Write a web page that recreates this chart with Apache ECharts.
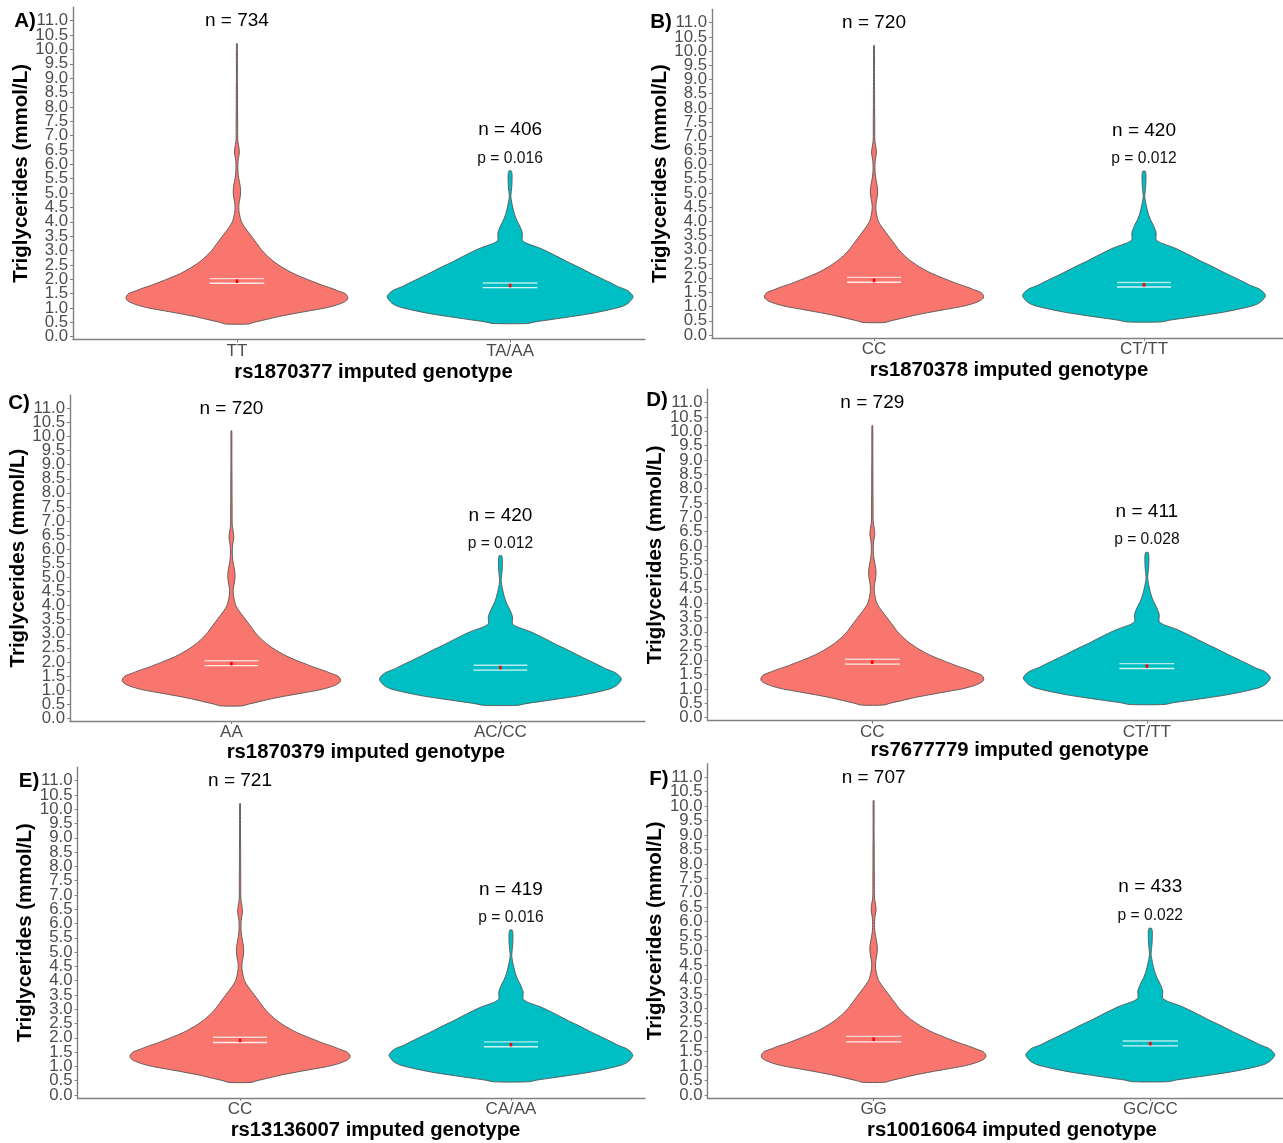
<!DOCTYPE html>
<html>
<head>
<meta charset="utf-8">
<title>Triglycerides by imputed genotype</title>
<script src="https://cdn.jsdelivr.net/npm/echarts@6.0.0/dist/echarts.min.js"></script>
<style>
  html, body { margin: 0; padding: 0; background: #fff; }
  #main { width: 1283px; height: 1143px; }
</style>
</head>
<body>
<div id="main"></div>
<script>
// ---- data ----
const panelTags = ['A)', 'B)', 'C)', 'D)', 'E)', 'F)'];
const snps = ['rs1870377', 'rs1870378', 'rs1870379', 'rs7677779', 'rs13136007', 'rs10016064'];
const genotypeRef = ['TT', 'CC', 'AA', 'CC', 'CC', 'GG'];
const genotypeAlt = ['TA/AA', 'CT/TT', 'AC/CC', 'CT/TT', 'CA/AA', 'GC/CC'];
const nRef = [734, 720, 720, 729, 721, 707];
const nAlt = [406, 420, 420, 411, 419, 433];
const pValues = ['0.016', '0.012', '0.012', '0.028', '0.016', '0.022'];

const meanRef = [1.93, 1.92, 1.94, 1.94, 1.91, 1.93];
const ciRefLow = [1.86, 1.86, 1.87, 1.87, 1.84, 1.84];
const ciRefHigh = [2.02, 2.03, 2.04, 2.04, 2.02, 2.03];
const meanAlt = [1.78, 1.77, 1.80, 1.80, 1.76, 1.78];
const ciAltLow = [1.71, 1.69, 1.71, 1.72, 1.69, 1.70];
const ciAltHigh = [1.87, 1.85, 1.88, 1.89, 1.86, 1.87];

// tick labels: whole and half values (two label rows so none get dropped)
const yTicksWhole = [0, 1, 2, 3, 4, 5, 6, 7, 8, 9, 10, 11];
const yTicksHalf = [0.5, 1.5, 2.5, 3.5, 4.5, 5.5, 6.5, 7.5, 8.5, 9.5, 10.5];

// kernel density outline (relative density, widest violin = 1)
const refLevels = [0.44, 0.5, 0.6, 0.7, 0.8, 0.9, 1.0, 1.1, 1.2, 1.3, 1.4, 1.5, 1.6, 1.7, 1.8, 1.9, 2.0, 2.2, 2.4, 2.6,
  2.8, 3.0, 3.2, 3.4, 3.6, 3.8, 4.0, 4.2, 4.4, 4.6, 4.8, 5.0, 5.2, 5.4, 5.6, 5.8, 6.0, 6.2, 6.4, 6.6, 6.8, 7.0,
  7.5, 8.0, 8.5, 9.0, 9.5, 10.0, 10.2];
const refDensity = [0.09, 0.14, 0.24, 0.34, 0.46, 0.59, 0.72, 0.81, 0.87, 0.90, 0.90, 0.88, 0.82, 0.76, 0.69, 0.63, 0.57, 0.46, 0.375, 0.305,
  0.25, 0.205, 0.17, 0.135, 0.10, 0.065, 0.037, 0.024, 0.016, 0.016, 0.024, 0.03, 0.028, 0.02, 0.012, 0.008, 0.008, 0.012, 0.02, 0.016, 0.008, 0.006,
  0.006, 0.005, 0.005, 0.004, 0.004, 0.004, 0.003];
const altLevels = [0.46, 0.52, 0.6, 0.7, 0.8, 0.93, 1.05, 1.16, 1.3, 1.39, 1.5, 1.62, 1.74, 1.86, 2.0, 2.09, 2.2, 2.44, 2.6, 2.78,
  2.95, 3.08, 3.18, 3.25, 3.35, 3.42, 3.6, 3.83, 4.06, 4.25, 4.41, 4.64, 4.87, 5.1, 5.3, 5.45, 5.65, 5.77];
const altDensity = [0.14, 0.21, 0.34, 0.50, 0.65, 0.80, 0.91, 0.96, 0.99, 1.0, 0.985, 0.95, 0.88, 0.825, 0.757, 0.714, 0.66, 0.55, 0.47, 0.39,
  0.31, 0.245, 0.18, 0.136, 0.10, 0.098, 0.10, 0.081, 0.054, 0.037, 0.027, 0.015, 0.0065, 0.011, 0.015, 0.016, 0.016, 0.01];

// ---- layout (pixels) ----
const panelBox = [
  { axisX: 73,    y0: 336.7,  y11: 20.7,  fullW: 601,   right: 645,  titleY: 372,   tag: [25, 21] },
  { axisX: 712,   y0: 335,    y11: 22.7,  fullW: 594,   right: 1283, titleY: 370,   tag: [661, 22] },
  { axisX: 70,    y0: 718.3,  y11: 408.3, fullW: 591.8, right: 645,  titleY: 752,   tag: [19, 403] },
  { axisX: 707.6, y0: 717.7,  y11: 402.7, fullW: 604,   right: 1283, titleY: 750.7, tag: [657, 400] },
  { axisX: 77.5,  y0: 1095,   y11: 780.7, fullW: 596,   right: 645,  titleY: 1130,  tag: [29, 781] },
  { axisX: 707.6, y0: 1095,   y11: 777.3, fullW: 608.7, right: 1283, titleY: 1130,  tag: [659, 779] }
];
const Y_MIN = -0.1, Y_MAX = 11.47;
const X_MIN = 0.4, X_SPAN = 2.2;
const HALF = 0.45;       // max half width of a violin in x units
const CAP = 0.1;         // half width of the error bar
const FONT = '"Liberation Sans", Arial, sans-serif';
const colors = ['#F8766D', '#00BFC4'];
const AXIS_GREY = '#808080';

const chart = echarts.init(document.getElementById('main'), null, { renderer: 'canvas' });

const grids = [], xAxes = [], yAxes = [], series = [], graphics = [];

const tickLabel = {
  formatter: v => v.toFixed(1), showMinLabel: true, showMaxLabel: true, hideOverlap: false,
  fontFamily: FONT, fontSize: 16.8, color: '#4D4D4D', margin: 5
};

panelBox.forEach((b, p) => {
  const unit = (b.y0 - b.y11) / 11;
  const top = b.y0 - Y_MAX * unit;
  const bottom = b.y0 - Y_MIN * unit;
  grids.push({ left: b.axisX, top: top, width: b.right - b.axisX, height: bottom - top });

  const xMax = X_MIN + (b.right - b.axisX) / b.fullW * X_SPAN;
  const cats = [genotypeRef[p], genotypeAlt[p]];
  xAxes.push({
    gridIndex: p, type: 'value', min: X_MIN, max: xMax,
    splitLine: { show: false },
    axisLine: { onZero: false, lineStyle: { color: AXIS_GREY, width: 1.4 } },
    axisTick: { customValues: [1, 2], length: 3, lineStyle: { color: AXIS_GREY, width: 1 } },
    axisLabel: {
      customValues: [1, 2], formatter: v => cats[Math.round(v) - 1],
      showMinLabel: true, showMaxLabel: true, hideOverlap: false,
      fontFamily: FONT, fontSize: 17, color: '#4D4D4D', margin: 3
    }
  });
  // main y axis: line, all ticks, whole-number labels, title
  yAxes.push({
    gridIndex: p, type: 'value', position: 'left', min: Y_MIN, max: Y_MAX,
    splitLine: { show: false },
    axisLine: { show: true, onZero: false, lineStyle: { color: AXIS_GREY, width: 1.4 } },
    axisTick: { show: true, customValues: yTicksWhole.concat(yTicksHalf), length: 3, lineStyle: { color: AXIS_GREY, width: 1 } },
    axisLabel: Object.assign({ customValues: yTicksWhole }, tickLabel),
    name: 'Triglycerides (mmol/L)', nameLocation: 'middle', nameGap: 41,
    nameTextStyle: { fontFamily: FONT, fontSize: 20.5, fontWeight: 'bold', color: '#000' }
  });
  // twin axis carrying the half-value labels
  yAxes.push({
    gridIndex: p, type: 'value', position: 'left', offset: 0, min: Y_MIN, max: Y_MAX,
    splitLine: { show: false },
    axisLine: { show: false, onZero: false },
    axisTick: { show: false },
    axisLabel: Object.assign({ customValues: yTicksHalf }, tickLabel)
  });

  const nText = [nRef[p], nAlt[p]];
  const nY = [11, 7.2];
  series.push({
    type: 'custom', xAxisIndex: p, yAxisIndex: 2 * p, clip: false,
    data: [
      [1, meanRef[p], ciRefLow[p], ciRefHigh[p]],
      [2, meanAlt[p], ciAltLow[p], ciAltHigh[p]]
    ],
    renderItem: (params, api) => {
      const gi = params.dataIndex;
      const cx = api.value(0);
      const lv = gi === 0 ? refLevels : altLevels;
      const dn = gi === 0 ? refDensity : altDensity;
      const rightSide = lv.map((y, k) => api.coord([cx + dn[k] * HALF, y]));
      const leftSide = lv.map((y, k) => api.coord([cx - dn[k] * HALF, y])).reverse();
      const m = api.value(1), lo = api.value(2), hi = api.value(3);
      const hiA = api.coord([cx - CAP, hi]), hiB = api.coord([cx + CAP, hi]);
      const loA = api.coord([cx - CAP, lo]), loB = api.coord([cx + CAP, lo]);
      const mid = api.coord([cx, m]);
      const nPos = api.coord([cx, nY[gi]]);
      const children = [
        {
          type: 'polygon', shape: { points: rightSide.concat(leftSide), smooth: 0.25 },
          style: { fill: colors[gi], stroke: '#555', lineWidth: 0.9 }
        },
        { type: 'line', shape: { x1: hiA[0], y1: hiA[1], x2: hiB[0], y2: hiB[1] },
          style: { stroke: '#fff', lineWidth: 1.4, opacity: 0.7 } },
        { type: 'line', shape: { x1: loA[0], y1: loA[1], x2: loB[0], y2: loB[1] },
          style: { stroke: '#fff', lineWidth: 1.4, opacity: 0.85 } },
        { type: 'rect', shape: { x: mid[0] - 1.3, y: mid[1] - 1.8, width: 2.6, height: 3.6 },
          style: { fill: '#FF0000' } },
        { type: 'text', x: nPos[0], y: nPos[1],
          style: { text: 'n = ' + nText[gi], font: '19px ' + FONT, fill: '#000', align: 'center', verticalAlign: 'middle' } }
      ];
      if (gi === 1) {
        const pPos = api.coord([cx, 6.2]);
        children.push({ type: 'text', x: pPos[0], y: pPos[1],
          style: { text: 'p = ' + pValues[p], font: '15.6px ' + FONT, fill: '#111', align: 'center', verticalAlign: 'middle' } });
      }
      return { type: 'group', children: children };
    }
  });

  graphics.push({
    type: 'text', x: b.axisX + b.fullW / 2, y: b.titleY,
    style: { text: snps[p] + ' imputed genotype', font: 'bold 20.3px ' + FONT, fill: '#000', align: 'center', verticalAlign: 'middle' }
  });
  graphics.push({
    type: 'text', x: b.tag[0], y: b.tag[1],
    style: { text: panelTags[p], font: 'bold 20.5px ' + FONT, fill: '#000', align: 'center', verticalAlign: 'middle' }
  });
});

chart.setOption({
  animation: false,
  backgroundColor: '#fff',
  grid: grids,
  xAxis: xAxes,
  yAxis: yAxes,
  series: series,
  graphic: graphics
});
window.addEventListener('resize', () => { chart.resize(); });
</script>
</body>
</html>
